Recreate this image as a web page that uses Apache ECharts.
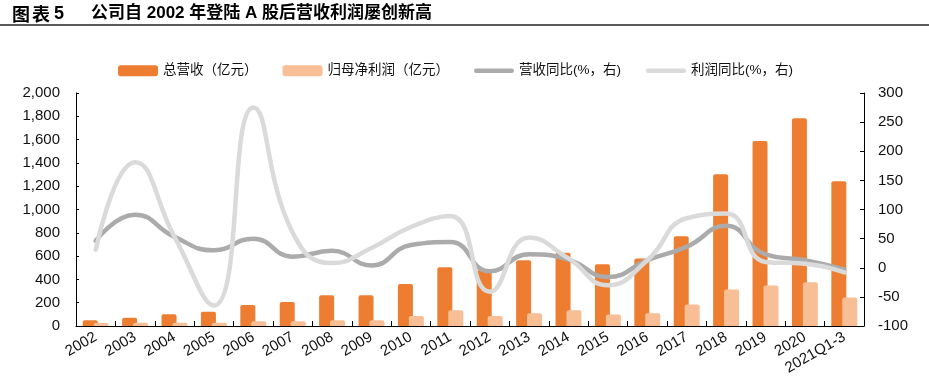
<!DOCTYPE html>
<html>
<head>
<meta charset="utf-8">
<script src="https://cdn.jsdelivr.net/npm/echarts@6/dist/echarts.min.js"></script>
<style>
html,body{margin:0;padding:0;background:#fff;}
#chart{width:929px;height:379px;}
</style>
</head>
<body>
<div id="chart"></div>
<script>
var categories = ['2002','2003','2004','2005','2006','2007','2008','2009','2010','2011','2012','2013','2014','2015','2016','2017','2018','2019','2020','2021Q1-3'];
var revenue = [49, 70, 100, 123, 181, 205, 264, 264, 361, 505, 479, 565, 628, 530, 580, 771, 1302, 1588, 1783, 1242];
var netProfit = [26, 28, 28, 28, 40, 40, 49, 49, 86, 135, 86, 109, 135, 98, 109, 184, 313, 347, 376, 244];
var revenueYoY = [46, 91, 53, 30, 50, 19, 29, 4, 39, 44, -6, 23, 14, -16, 13, 36, 72, 23, 13, -3];
var profitYoY = [31, 181, 53, -65, 275, 60, 8, 34, 70, 89, -41, 52, 16, -30, 13, 85, 93, 10, 7, -8];
var leftTicks = {min: 0, max: 2000, interval: 200};
var rightTicks = {min: -100, max: 300, interval: 50};
var seriesNames = ['总营收（亿元）', '归母净利润（亿元）', '营收同比(%，右)', '利润同比(%，右)'];

var FONT = "'Liberation Sans', Arial, 'Noto Sans CJK SC', sans-serif";
var C_REV = '#ED7D31', C_NP = '#F8BF96', C_RY = '#ABABAB', C_PY = '#DADADA';
var LINE_ICON = 'path://M2.25,0 L37.75,0 A2.25,2.25 0 0 1 37.75,4.5 L2.25,4.5 A2.25,2.25 0 0 1 2.25,0 Z';

var chart = echarts.init(document.getElementById('chart'), null, {renderer: 'canvas'});
var option = {
  backgroundColor: '#fff',
  animation: false,
  textStyle: {fontFamily: FONT},
  graphic: [
    {type: 'text', left: 12, top: 5, style: {text: '图', font: "bold 18px 'Noto Sans CJK SC', sans-serif", fill: '#000'}},
    {type: 'text', left: 32, top: 5, style: {text: '表', font: "bold 18px 'Noto Sans CJK SC', sans-serif", fill: '#000'}},
    {type: 'text', left: 54, top: 5, style: {text: '5', font: "bold 18px 'Liberation Sans', Arial, sans-serif", fill: '#000'}},
    {type: 'text', left: 91, top: 5, style: {text: '公司自 2002 年登陆 A 股后营收利润屡创新高', font: "bold 17px 'Liberation Sans', 'Noto Sans CJK SC', sans-serif", fill: '#000'}},
    {type: 'line', shape: {x1: 0, y1: 25, x2: 929, y2: 25}, style: {stroke: '#222', lineWidth: 1.6}}
  ],
  legend: {
    left: 118,
    top: 64,
    padding: 0,
    itemWidth: 40,
    itemHeight: 11,
    itemGap: 25,
    symbolKeepAspect: true,
    textStyle: {fontSize: 13.5, color: '#111', fontFamily: "'Liberation Sans', 'Noto Sans CJK SC', sans-serif"},
    data: [
      {name: seriesNames[0], icon: 'roundRect', itemStyle: {color: C_REV}},
      {name: seriesNames[1], icon: 'roundRect', itemStyle: {color: C_NP}},
      {name: seriesNames[2], icon: LINE_ICON, itemStyle: {color: C_RY}},
      {name: seriesNames[3], icon: LINE_ICON, itemStyle: {color: C_PY}}
    ]
  },
  grid: {left: 76, right: 65, top: 93, bottom: 53, containLabel: false},
  xAxis: {
    type: 'category',
    data: categories,
    boundaryGap: true,
    axisLine: {show: true, lineStyle: {color: '#000', width: 1}},
    axisTick: {show: true, inside: true, length: 5, alignWithLabel: false, lineStyle: {color: '#000'}},
    axisLabel: {interval: 0, rotate: 30, margin: 10, fontSize: 15, color: '#111', fontFamily: FONT}
  },
  yAxis: [
    {
      type: 'value', min: leftTicks.min, max: leftTicks.max, interval: leftTicks.interval,
      axisLine: {show: true, lineStyle: {color: '#000', width: 1}},
      axisTick: {show: true, inside: true, length: 3, lineStyle: {color: '#000'}},
      splitLine: {show: false},
      axisLabel: {fontSize: 15, color: '#111', margin: 16, fontFamily: FONT,
        formatter: function (v) { return v.toLocaleString('en-US'); }}
    },
    {
      type: 'value', min: rightTicks.min, max: rightTicks.max, interval: rightTicks.interval,
      position: 'right',
      axisLine: {show: true, lineStyle: {color: '#000', width: 1}},
      axisTick: {show: true, inside: true, length: 4, lineStyle: {color: '#000'}},
      splitLine: {show: false},
      axisLabel: {fontSize: 15, color: '#111', margin: 14, fontFamily: FONT}
    }
  ],
  series: [
    {name: seriesNames[0], type: 'bar', yAxisIndex: 0, data: revenue, barWidth: 15, barGap: '-27%',
      itemStyle: {color: C_REV, borderRadius: [2, 2, 0, 0]}},
    {name: seriesNames[1], type: 'bar', yAxisIndex: 0, data: netProfit, barWidth: 15, barGap: '-27%',
      itemStyle: {color: C_NP, borderRadius: [2, 2, 0, 0]}},
    {name: seriesNames[2], type: 'line', yAxisIndex: 1, data: revenueYoY, smooth: 0.5, symbol: 'none',
      lineStyle: {color: C_RY, width: 4.5, cap: 'round', join: 'round'}, itemStyle: {color: C_RY}},
    {name: seriesNames[3], type: 'line', yAxisIndex: 1, data: profitYoY, smooth: 0.5, symbol: 'none',
      lineStyle: {color: C_PY, width: 4.5, cap: 'round', join: 'round'}, itemStyle: {color: C_PY}}
  ]
};
chart.setOption(option);
</script>
</body>
</html>
